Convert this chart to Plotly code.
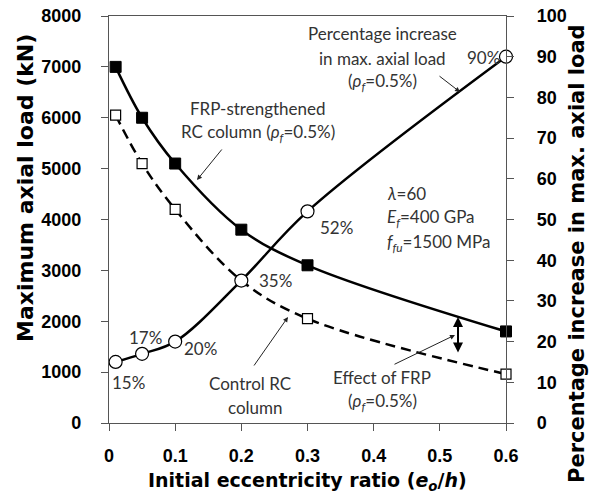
import plotly.graph_objects as go

ecc = [0.01, 0.05, 0.1, 0.2, 0.3, 0.6]
frp_load = [7000, 6000, 5100, 3800, 3100, 1800]
control_load = [6050, 5100, 4200, 2800, 2050, 960]
pct_increase = [15, 17, 20, 35, 52, 90]
pct_labels = ["15%", "17%", "20%", "35%", "52%", "90%"]
x_ticks = [0, 0.1, 0.2, 0.3, 0.4, 0.5, 0.6]
y_ticks = list(range(0, 8001, 1000))
y2_ticks = list(range(0, 101, 10))

W, H = 589, 497
X0, X1, Y0, Y1 = 109, 506, 423, 16

def dx(px):
    return (px - X0) / (X1 - X0) * 0.6

def dy(py):
    return (Y0 - py) / (Y0 - Y1) * 8000

def px2paper(px):
    return (px - X0) / (X1 - X0)

def py2paper(py):
    return (Y0 - py) / (Y0 - Y1)

fig = go.Figure()
fig.add_trace(go.Scatter(
    x=ecc, y=control_load, mode="lines+markers",
    line=dict(color="black", width=2.5, dash="10px,6px", shape="spline"),
    marker=dict(symbol="square", size=10, color="white", line=dict(color="black", width=1.2)),
    cliponaxis=False, showlegend=False))
fig.add_trace(go.Scatter(
    x=ecc, y=frp_load, mode="lines+markers",
    line=dict(color="black", width=2.5, shape="spline"),
    marker=dict(symbol="square", size=11, color="black", line=dict(color="black", width=1)),
    cliponaxis=False, showlegend=False))
fig.add_trace(go.Scatter(
    x=ecc, y=pct_increase, mode="lines+markers", yaxis="y2",
    line=dict(color="black", width=2.5, shape="spline"),
    marker=dict(symbol="circle", size=13, color="white", line=dict(color="black", width=1.2)),
    cliponaxis=False, showlegend=False))

tfont = dict(family="Lato", size=17, color="#333333")

def txt(px, py, s, xanchor="center"):
    fig.add_annotation(x=dx(px), y=dy(py), xref="x", yref="y", text=s,
                       showarrow=False, font=tfont, xanchor=xanchor, yanchor="middle")

# percentage labels
pct_pos = [(128, 382), (145, 337), (200, 348), (275, 280), (336, 227), (483, 57)]
for (px, py), lab in zip(pct_pos, pct_labels):
    txt(px, py, lab)

txt(382, 33, "Percentage increase")
txt(382, 58, "in max. axial load")
txt(382, 82, "(<i>ρ<sub>f</sub></i>=0.5%)")

txt(258, 108, "FRP-strengthened")
txt(258, 133, "RC column (<i>ρ<sub>f</sub></i>=0.5%)")

txt(385, 193, "<i>λ</i>=60", "left")
txt(385, 218, "<i>E<sub>f</sub></i>=400 GPa", "left")
txt(385, 243, "<i>f<sub>fu</sub></i>=1500 MPa", "left")

txt(250, 383, "Control RC")
txt(255, 407, "column")

txt(382, 377, "Effect of FRP")
txt(382, 402, "(<i>ρ<sub>f</sub></i>=0.5%)")

def arrow(px0, py0, px1, py1, width=1, head=2, side="end", size=1.0):
    fig.add_annotation(x=dx(px1), y=dy(py1), ax=dx(px0), ay=dy(py0),
                       xref="x", yref="y", axref="x", ayref="y", text="",
                       showarrow=True, arrowhead=head, arrowwidth=width,
                       arrowcolor="#222222", arrowside=side, arrowsize=size,
                       standoff=0, startstandoff=0)

arrow(438, 75, 460, 92)
arrow(223, 148, 197, 180)
arrow(253, 367, 288, 317)
arrow(393, 365, 455, 335)
# effect of FRP double arrow
fig.add_annotation(x=dx(458), y=dy(317), ax=dx(458), ay=dy(354),
                   xref="x", yref="y", axref="x", ayref="y", text="",
                   showarrow=True, arrowhead=2, startarrowhead=2, arrowside="end+start",
                   arrowwidth=2, arrowsize=1, startarrowsize=1, arrowcolor="black",
                   standoff=0, startstandoff=0)

# axis titles
fig.add_annotation(x=px2paper(307), y=py2paper(481), xref="paper", yref="paper",
                   text="<b>Initial eccentricity ratio (<i>e<sub>o</sub></i>/<i>h</i>)</b>",
                   showarrow=False, font=dict(family="DejaVu Sans", size=19, color="black"),
                   xanchor="center", yanchor="middle")
fig.add_annotation(x=px2paper(25), y=py2paper(188), xref="paper", yref="paper",
                   text="<b>Maximum axial load (kN)</b>", textangle=-90,
                   showarrow=False, font=dict(family="DejaVu Sans", size=22, color="black"),
                   xanchor="center", yanchor="middle")
fig.add_annotation(x=px2paper(577), y=py2paper(254), xref="paper", yref="paper",
                   text="<b>Percentage increase in max. axial load</b>", textangle=-90,
                   showarrow=False, font=dict(family="DejaVu Sans", size=21, color="black"),
                   xanchor="center", yanchor="middle")

tickfont = dict(family="Liberation Sans", size=18, color="black")
axis_common = dict(showline=True, linecolor="#555555", linewidth=1.2, ticks="outside",
                   ticklen=7, tickcolor="#555555", showgrid=False, zeroline=False,
                   tickfont=tickfont, automargin=False)

fig.update_layout(
    width=W, height=H,
    margin=dict(l=X0, r=W - X1, t=Y1, b=H - Y0, autoexpand=False),
    paper_bgcolor="white", plot_bgcolor="white",
    xaxis=dict(range=[0, 0.6], tickvals=x_ticks,
               ticktext=["<b>%g</b>" % v for v in x_ticks],
               mirror=True, ticklabelstandoff=9,
               **axis_common),
    yaxis=dict(range=[0, 8000], tickvals=y_ticks,
               ticktext=["<b>%d</b>\u00a0" % v for v in y_ticks],
               ticklabelstandoff=11,
               **axis_common),
    yaxis2=dict(range=[0, 100], overlaying="y", side="right",
                tickvals=y2_ticks,
                ticktext=["<b>%d</b>" % v for v in y2_ticks],
                ticklabelstandoff=19,
                **axis_common),
)

fig.write_html("out.html", config={"displayModeBar": False},
               post_script="document.body.style.margin='0';")
